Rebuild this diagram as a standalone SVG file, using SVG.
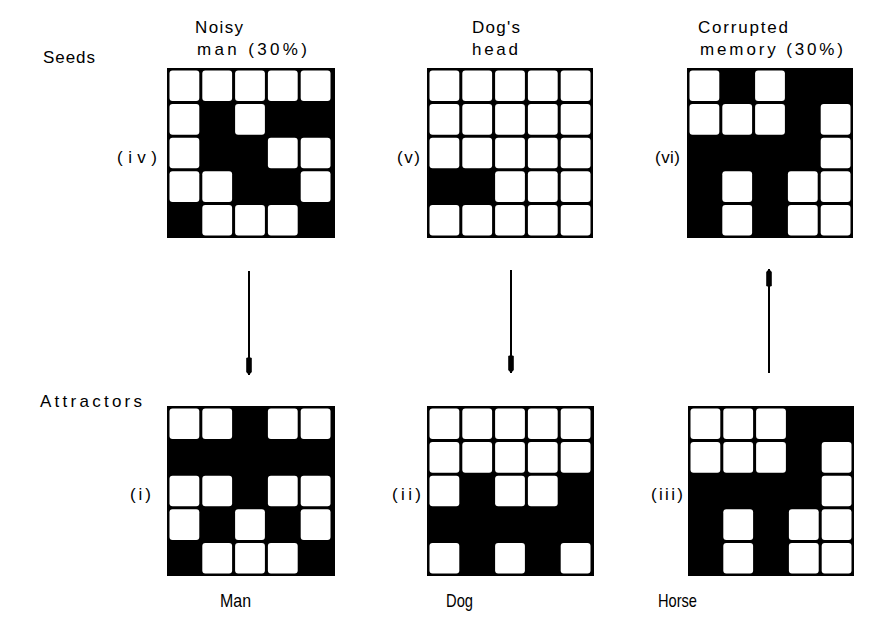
<svg xmlns="http://www.w3.org/2000/svg" xmlns:xlink="http://www.w3.org/1999/xlink" width="893" height="629" viewBox="0 0 893 629">
<style>
  text { font-family: "Liberation Sans", Arial, sans-serif; font-size: 17px; fill: #000; }
  .big { font-size: 19px; }
  .grid-bg { fill: #000; }
  .conn { stroke: #000; stroke-width: 2; fill: none; }
</style>
<defs>
  <rect id="c" width="29.8" height="30.6" rx="3" ry="3" fill="#fff"/>
  <marker id="ah" viewBox="-20 -4 22 8" markerWidth="22" markerHeight="8" markerUnits="userSpaceOnUse" refX="0" refY="0" orient="auto">
    <path d="M0,0 L-3,-2.8 L-17,-2.8 L-18,0 L-17,2.8 L-3,2.8 Z" fill="#000"/>
  </marker>
</defs>
<rect width="893" height="629" fill="#fff"/>

<g id="labels">
  <text x="43" y="63" textLength="52" lengthAdjust="spacing">Seeds</text>
  <text x="40" y="407" textLength="102" lengthAdjust="spacing">Attractors</text>
  <text x="195" y="33" textLength="48" lengthAdjust="spacing">Noisy</text>
  <text x="197" y="55" textLength="110" lengthAdjust="spacing">man (30%)</text>
  <text x="472" y="33" textLength="48" lengthAdjust="spacing">Dog's</text>
  <text x="472" y="55" textLength="46" lengthAdjust="spacing">head</text>
  <text x="698" y="33" textLength="90" lengthAdjust="spacing">Corrupted</text>
  <text x="700" y="55" textLength="143" lengthAdjust="spacing">memory (30%)</text>
  <text class="big" x="220" y="607" textLength="31" lengthAdjust="spacingAndGlyphs">Man</text>
  <text class="big" x="446" y="607" textLength="27" lengthAdjust="spacingAndGlyphs">Dog</text>
  <text class="big" x="658" y="607" textLength="39" lengthAdjust="spacingAndGlyphs">Horse</text>
</g>

<g id="grid-iv">
  <text x="117" y="163" textLength="40" lengthAdjust="spacing">(iv)</text>
  <g transform="translate(167,68)">
    <rect class="grid-bg" width="168" height="170"/>
    <use xlink:href="#c" x="2.5" y="2.5"/><use xlink:href="#c" x="35.3" y="2.5"/><use xlink:href="#c" x="68.1" y="2.5"/><use xlink:href="#c" x="100.9" y="2.5"/><use xlink:href="#c" x="133.7" y="2.5"/>
    <use xlink:href="#c" x="2.5" y="36.1"/><use xlink:href="#c" x="68.1" y="36.1"/>
    <use xlink:href="#c" x="2.5" y="69.7"/><use xlink:href="#c" x="100.9" y="69.7"/><use xlink:href="#c" x="133.7" y="69.7"/>
    <use xlink:href="#c" x="2.5" y="103.3"/><use xlink:href="#c" x="35.3" y="103.3"/><use xlink:href="#c" x="133.7" y="103.3"/>
    <use xlink:href="#c" x="35.3" y="136.9"/><use xlink:href="#c" x="68.1" y="136.9"/><use xlink:href="#c" x="100.9" y="136.9"/>
  </g>
</g>

<g id="grid-v">
  <text x="397" y="163" textLength="23" lengthAdjust="spacing">(v)</text>
  <g transform="translate(427,68)">
    <rect class="grid-bg" width="166" height="170"/>
    <use xlink:href="#c" x="2.5" y="2.5"/><use xlink:href="#c" x="35.3" y="2.5"/><use xlink:href="#c" x="68.1" y="2.5"/><use xlink:href="#c" x="100.9" y="2.5"/><use xlink:href="#c" x="133.7" y="2.5"/>
    <use xlink:href="#c" x="2.5" y="36.1"/><use xlink:href="#c" x="35.3" y="36.1"/><use xlink:href="#c" x="68.1" y="36.1"/><use xlink:href="#c" x="100.9" y="36.1"/><use xlink:href="#c" x="133.7" y="36.1"/>
    <use xlink:href="#c" x="2.5" y="69.7"/><use xlink:href="#c" x="35.3" y="69.7"/><use xlink:href="#c" x="68.1" y="69.7"/><use xlink:href="#c" x="100.9" y="69.7"/><use xlink:href="#c" x="133.7" y="69.7"/>
    <use xlink:href="#c" x="68.1" y="103.3"/><use xlink:href="#c" x="100.9" y="103.3"/><use xlink:href="#c" x="133.7" y="103.3"/>
    <use xlink:href="#c" x="2.5" y="136.9"/><use xlink:href="#c" x="35.3" y="136.9"/><use xlink:href="#c" x="68.1" y="136.9"/><use xlink:href="#c" x="100.9" y="136.9"/><use xlink:href="#c" x="133.7" y="136.9"/>
  </g>
</g>

<g id="grid-vi">
  <text x="655" y="163" textLength="25" lengthAdjust="spacing">(vi)</text>
  <g transform="translate(687,68)">
    <rect class="grid-bg" width="166" height="170"/>
    <use xlink:href="#c" x="2.5" y="2.5"/><use xlink:href="#c" x="68.1" y="2.5"/>
    <use xlink:href="#c" x="2.5" y="36.1"/><use xlink:href="#c" x="35.3" y="36.1"/><use xlink:href="#c" x="68.1" y="36.1"/><use xlink:href="#c" x="133.7" y="36.1"/>
    <use xlink:href="#c" x="133.7" y="69.7"/>
    <use xlink:href="#c" x="35.3" y="103.3"/><use xlink:href="#c" x="100.9" y="103.3"/><use xlink:href="#c" x="133.7" y="103.3"/>
    <use xlink:href="#c" x="35.3" y="136.9"/><use xlink:href="#c" x="100.9" y="136.9"/><use xlink:href="#c" x="133.7" y="136.9"/>
  </g>
</g>

<g id="grid-i">
  <text x="130" y="500" textLength="21" lengthAdjust="spacing">(i)</text>
  <g transform="translate(167,406)">
    <rect class="grid-bg" width="168" height="170"/>
    <use xlink:href="#c" x="2.5" y="2.5"/><use xlink:href="#c" x="35.3" y="2.5"/><use xlink:href="#c" x="100.9" y="2.5"/><use xlink:href="#c" x="133.7" y="2.5"/>
    <use xlink:href="#c" x="2.5" y="69.7"/><use xlink:href="#c" x="35.3" y="69.7"/><use xlink:href="#c" x="100.9" y="69.7"/><use xlink:href="#c" x="133.7" y="69.7"/>
    <use xlink:href="#c" x="2.5" y="103.3"/><use xlink:href="#c" x="68.1" y="103.3"/><use xlink:href="#c" x="133.7" y="103.3"/>
    <use xlink:href="#c" x="35.3" y="136.9"/><use xlink:href="#c" x="68.1" y="136.9"/><use xlink:href="#c" x="100.9" y="136.9"/>
  </g>
</g>

<g id="grid-ii">
  <text x="392" y="500" textLength="29" lengthAdjust="spacing">(ii)</text>
  <g transform="translate(427,406)">
    <rect class="grid-bg" width="167" height="170"/>
    <use xlink:href="#c" x="2.5" y="2.5"/><use xlink:href="#c" x="35.3" y="2.5"/><use xlink:href="#c" x="68.1" y="2.5"/><use xlink:href="#c" x="100.9" y="2.5"/><use xlink:href="#c" x="133.7" y="2.5"/>
    <use xlink:href="#c" x="2.5" y="36.1"/><use xlink:href="#c" x="35.3" y="36.1"/><use xlink:href="#c" x="68.1" y="36.1"/><use xlink:href="#c" x="100.9" y="36.1"/><use xlink:href="#c" x="133.7" y="36.1"/>
    <use xlink:href="#c" x="2.5" y="69.7"/><use xlink:href="#c" x="68.1" y="69.7"/><use xlink:href="#c" x="100.9" y="69.7"/>
    <use xlink:href="#c" x="2.5" y="136.9"/><use xlink:href="#c" x="68.1" y="136.9"/><use xlink:href="#c" x="133.7" y="136.9"/>
  </g>
</g>

<g id="grid-iii">
  <text x="651" y="500" textLength="32" lengthAdjust="spacing">(iii)</text>
  <g transform="translate(688,406)">
    <rect class="grid-bg" width="166" height="170"/>
    <use xlink:href="#c" x="2.5" y="2.5"/><use xlink:href="#c" x="35.3" y="2.5"/><use xlink:href="#c" x="68.1" y="2.5"/>
    <use xlink:href="#c" x="2.5" y="36.1"/><use xlink:href="#c" x="35.3" y="36.1"/><use xlink:href="#c" x="68.1" y="36.1"/><use xlink:href="#c" x="133.7" y="36.1"/>
    <use xlink:href="#c" x="133.7" y="69.7"/>
    <use xlink:href="#c" x="35.3" y="103.3"/><use xlink:href="#c" x="100.9" y="103.3"/><use xlink:href="#c" x="133.7" y="103.3"/>
    <use xlink:href="#c" x="35.3" y="136.9"/><use xlink:href="#c" x="100.9" y="136.9"/><use xlink:href="#c" x="133.7" y="136.9"/>
  </g>
</g>

<g id="connectors">
  <line class="conn" x1="249" y1="271" x2="249" y2="375" marker-end="url(#ah)"/>
  <line class="conn" x1="511" y1="270" x2="511" y2="373" marker-end="url(#ah)"/>
  <line class="conn" x1="769" y1="373" x2="769" y2="269" marker-end="url(#ah)"/>
</g>
</svg>
